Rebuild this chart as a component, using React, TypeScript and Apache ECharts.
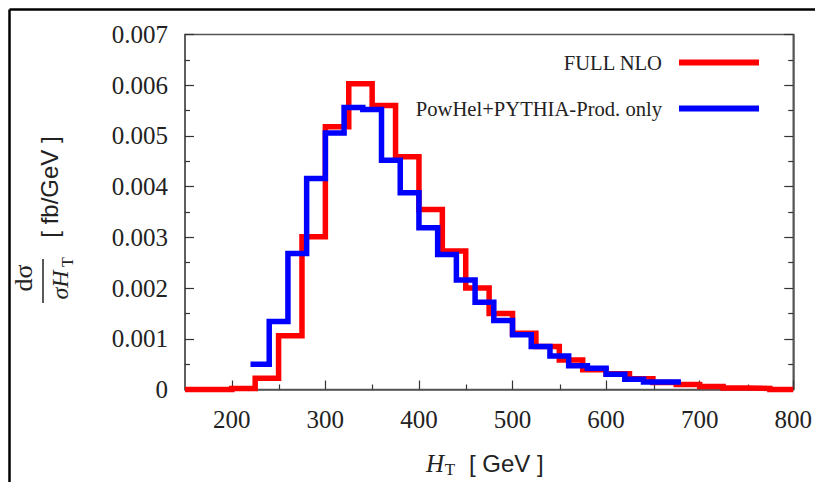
import React, { useEffect, useRef } from 'react';
import * as echarts from 'echarts';

const redEdges = [150, 175, 200, 225, 250, 275, 300, 325, 350, 375, 400, 425, 450, 475, 500, 525, 550, 575, 600, 625, 650, 675, 700, 725, 750, 775, 800];
const redValues = [0, 0, 0.00002, 0.00022, 0.00106, 0.00301, 0.00518, 0.00603, 0.0056, 0.00459, 0.00355, 0.00273, 0.002, 0.0015, 0.00111, 0.00085, 0.00058, 0.00039, 0.00031, 0.00021, 0.00014, 0.0001, 0.00006, 0.00003, 0.00002, 0.0];

const blueEdges = [220, 240, 260, 280, 300, 320, 340, 360, 380, 400, 420, 440, 460, 480, 500, 520, 540, 560, 580, 600, 620, 640, 660, 680];
const blueValues = [0.0005, 0.00134, 0.00268, 0.00416, 0.00506, 0.00556, 0.00552, 0.00452, 0.00388, 0.00319, 0.00266, 0.00216, 0.00172, 0.00136, 0.00108, 0.00085, 0.00066, 0.00047, 0.00042, 0.0003, 0.0002, 0.00015, 0.00015];

const seriesNames = ['FULL NLO', 'PowHel+PYTHIA-Prod. only'];
const xMajorTicks = [200, 300, 400, 500, 600, 700, 800];
const xMinorTicks = [250, 350, 450, 550, 650, 750];

const toSteps = (edges: number[], values: number[]) => {
  const pts: number[][] = values.map((v, i) => [edges[i], v]);
  pts.push([edges[edges.length - 1], values[values.length - 1]]);
  return pts;
};

const SERIF = '"Liberation Serif", "DejaVu Serif", serif';
const SANS = '"Liberation Sans", "DejaVu Sans", sans-serif';

export default function App() {
  const ref = useRef<HTMLDivElement>(null);
  useEffect(() => {
    document.body.style.margin = '0';
    const chart = echarts.init(ref.current!, null, { renderer: 'svg' });
    const gridPos = { left: 185, top: 34.5, width: 610, height: 355 };
    const tickStyle = { color: '#333', width: 1.2 };
    const legendBase = {
      orient: 'vertical',
      align: 'right',
      right: 56,
      padding: 0,
      icon: 'rect',
      itemWidth: 80,
      itemHeight: 6,
      selectedMode: false,
      textStyle: { fontFamily: SERIF, fontSize: 20.6, color: '#222', padding: [0, 12, 0, 0] },
    };
    chart.setOption({
      animation: false,
      backgroundColor: '#ffffff',
      grid: [
        { ...gridPos, show: true, borderColor: '#555', borderWidth: 1.5, backgroundColor: 'transparent' },
        { ...gridPos, show: false },
      ],
      legend: [
        { ...legendBase, data: [seriesNames[0]], top: 52 },
        { ...legendBase, data: [seriesNames[1]], top: 98 },
      ],
      xAxis: [
        {
          type: 'value', gridIndex: 0, min: 150, max: 800, position: 'bottom',
          axisLine: { show: true, onZero: false, lineStyle: { color: '#555', width: 1.5 } },
          axisTick: { show: true, inside: true, length: 9, customValues: xMajorTicks, lineStyle: tickStyle },
          axisLabel: { customValues: xMajorTicks, fontFamily: SERIF, fontSize: 25, color: '#222', margin: 17 },
          splitLine: { show: false },
        },
        {
          type: 'value', gridIndex: 1, min: 150, max: 800, position: 'bottom',
          axisLine: { show: false, onZero: false },
          axisTick: { show: true, inside: true, length: 5, customValues: xMinorTicks, lineStyle: tickStyle },
          axisLabel: { show: false },
          splitLine: { show: false },
        },
      ],
      yAxis: [
        {
          type: 'value', gridIndex: 0, min: 0, max: 0.007, interval: 0.001, position: 'left',
          axisLine: { show: true, lineStyle: { color: '#555', width: 1.5 } },
          axisTick: { show: true, inside: true, length: 9, lineStyle: tickStyle },
          minorTick: { show: true, splitNumber: 2, length: 5, lineStyle: tickStyle },
          axisLabel: {
            fontFamily: SERIF, fontSize: 25, color: '#222', margin: 17,
            formatter: (v: number) => (v === 0 ? '0' : v.toFixed(3)),
          },
          splitLine: { show: false },
          minorSplitLine: { show: false },
        },
        {
          type: 'value', gridIndex: 0, min: 0, max: 0.007, interval: 0.001, position: 'right',
          axisLine: { show: true, lineStyle: { color: '#555', width: 1.5 } },
          axisTick: { show: true, inside: true, length: 9, lineStyle: tickStyle },
          minorTick: { show: true, splitNumber: 2, length: 5, lineStyle: tickStyle },
          axisLabel: { show: false },
          splitLine: { show: false },
        },
        {
          type: 'value', gridIndex: 1, min: 0, max: 0.007, show: false,
        },
      ],
      series: [
        {
          name: seriesNames[0], type: 'line', step: 'end', xAxisIndex: 0, yAxisIndex: 0,
          data: toSteps(redEdges, redValues), showSymbol: false, clip: false,
          color: '#ff0000',
          lineStyle: { color: '#ff0000', width: 5.5, join: 'miter', cap: 'butt' },
          z: 3,
        },
        {
          name: seriesNames[1], type: 'line', step: 'end', xAxisIndex: 0, yAxisIndex: 0,
          data: toSteps(blueEdges, blueValues), showSymbol: false, clip: false,
          color: '#0000ff',
          lineStyle: { color: '#0000ff', width: 5.5, join: 'miter', cap: 'butt' },
          z: 4,
        },
      ],
      graphic: [
        { type: 'line', shape: { x1: 9.5, y1: 9.5, x2: 815, y2: 9.5 }, style: { stroke: '#000', lineWidth: 2.5 } },
        { type: 'line', shape: { x1: 9.5, y1: 9.5, x2: 9.5, y2: 482 }, style: { stroke: '#000', lineWidth: 2.5 } },
        // y-axis title (rotated)
        { type: 'text', x: 23, y: 278, rotation: Math.PI / 2,
          style: { text: 'dσ', font: `26px ${SERIF}`, fill: '#222', align: 'center', verticalAlign: 'middle' } },
        { type: 'line', shape: { x1: 43, y1: 259, x2: 43, y2: 303 }, style: { stroke: '#222', lineWidth: 1.5 } },
        { type: 'text', x: 60, y: 285, rotation: Math.PI / 2,
          style: { text: 'σH', font: `italic 24px ${SERIF}`, fill: '#222', align: 'center', verticalAlign: 'middle' } },
        { type: 'text', x: 67.5, y: 262, rotation: Math.PI / 2,
          style: { text: 'T', font: `16px ${SERIF}`, fill: '#222', align: 'center', verticalAlign: 'middle' } },
        { type: 'text', x: 49, y: 187, rotation: Math.PI / 2,
          style: { text: '[ fb/GeV ]', font: `24px ${SANS}`, fill: '#222', align: 'center', verticalAlign: 'middle' } },
        // x-axis title
        { type: 'text', x: 435, y: 463,
          style: { text: 'H', font: `italic 25px ${SERIF}`, fill: '#222', align: 'center', verticalAlign: 'middle' } },
        { type: 'text', x: 450, y: 469,
          style: { text: 'T', font: `17px ${SERIF}`, fill: '#222', align: 'center', verticalAlign: 'middle' } },
        { type: 'text', x: 469, y: 463,
          style: { text: '[ GeV ]', font: `24px ${SANS}`, fill: '#222', align: 'left', verticalAlign: 'middle' } },
      ],
    });
    return () => chart.dispose();
  }, []);
  return <div ref={ref} style={{ position: 'fixed', left: 0, top: 0, width: 815, height: 482 }} />;
}
